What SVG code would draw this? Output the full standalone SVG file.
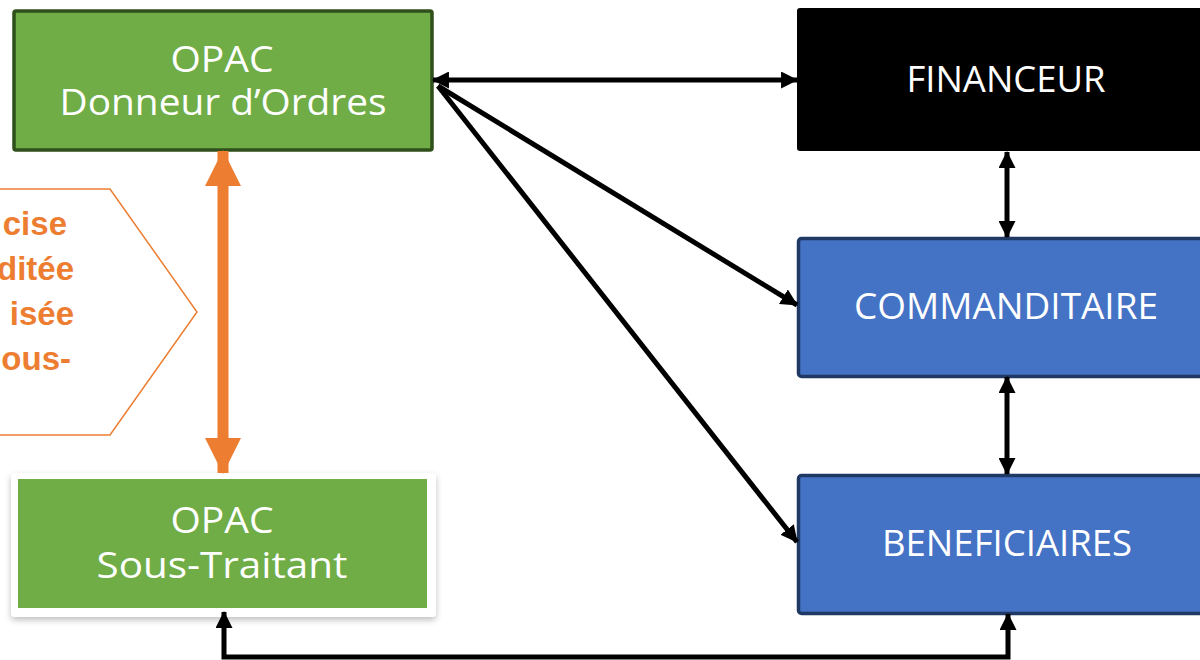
<svg xmlns="http://www.w3.org/2000/svg" width="1200" height="660" viewBox="0 0 1200 660">
<style>
.lbl{font-family:"Open Sans","Liberation Sans",sans-serif;font-size:36px;fill:#ffffff;text-anchor:middle}
.or{font-family:"Liberation Sans",Arial,sans-serif;font-weight:bold;font-size:33px;fill:#ed7d31;text-anchor:end}
.con{stroke:#000;stroke-width:5;fill:none}
</style>
<defs>
<marker id="ah" viewBox="0 0 16 16" refX="15" refY="8" markerWidth="17" markerHeight="17" markerUnits="userSpaceOnUse" orient="auto-start-reverse">
<path d="M0,0 L16,8 L0,16 z" fill="#000"/>
</marker>
<marker id="oh" viewBox="0 0 36 36" refX="35" refY="18" markerWidth="36" markerHeight="36" markerUnits="userSpaceOnUse" orient="auto-start-reverse">
<path d="M0,0 L36,18 L0,36 z" fill="#ed7d31"/>
</marker>
<filter id="sh" x="-5%" y="-5%" width="110%" height="115%">
<feDropShadow dx="0" dy="3" stdDeviation="3" flood-color="#000" flood-opacity="0.25"/>
</filter>
</defs>

<g id="callout">
<polygon points="-2,189 110,189 197,312 110,435 -2,435" fill="#fff" stroke="#ed7d31" stroke-width="1.5"/>
<text class="or" x="67" y="235">cise</text>
<text class="or" x="74" y="280">ditée</text>
<text class="or" x="74" y="325">isée</text>
<text class="or" x="71" y="370">ous-</text>
</g>

<g id="donneur">
<rect x="14" y="11" width="418" height="139" rx="2" fill="#70ad47" stroke="#2f4f1b" stroke-width="3.5"/>
<text class="lbl" x="222" y="72" textLength="103" lengthAdjust="spacingAndGlyphs">OPAC</text>
<text class="lbl" x="223" y="115" textLength="327" lengthAdjust="spacingAndGlyphs">Donneur d’Ordres</text>
</g>

<g id="soustraitant">
<rect x="11" y="473" width="425" height="144" rx="4" fill="#fff" filter="url(#sh)"/>
<rect x="18" y="479" width="409" height="129" fill="#70ad47"/>
<text class="lbl" x="222" y="533" textLength="103" lengthAdjust="spacingAndGlyphs">OPAC</text>
<text class="lbl" x="222" y="578" textLength="251" lengthAdjust="spacingAndGlyphs">Sous-Traitant</text>
</g>

<g id="financeur">
<rect x="797" y="8" width="420" height="143" rx="3" fill="#000"/>
<text class="lbl" x="1006" y="92" textLength="199" lengthAdjust="spacingAndGlyphs">FINANCEUR</text>
</g>

<g id="commanditaire">
<rect x="798.5" y="238.5" width="420" height="138" rx="3" fill="#4472c4" stroke="#1f3864" stroke-width="3.5"/>
<text class="lbl" x="1006" y="319" textLength="304" lengthAdjust="spacingAndGlyphs">COMMANDITAIRE</text>
</g>

<g id="beneficiaires">
<rect x="798.5" y="475.5" width="420" height="138" rx="3" fill="#4472c4" stroke="#1f3864" stroke-width="3.5"/>
<text class="lbl" x="1007" y="556" textLength="250" lengthAdjust="spacingAndGlyphs">BENEFICIAIRES</text>
</g>

<g id="connectors">
<line class="con" x1="433" y1="80" x2="797" y2="80" marker-start="url(#ah)" marker-end="url(#ah)"/>
<line class="con" x1="438" y1="86" x2="797" y2="305" marker-end="url(#ah)"/>
<line class="con" x1="438" y1="86" x2="797" y2="542" marker-end="url(#ah)"/>
<line class="con" x1="1007" y1="152" x2="1007" y2="237" marker-start="url(#ah)" marker-end="url(#ah)"/>
<line class="con" x1="1007" y1="377" x2="1007" y2="474" marker-start="url(#ah)" marker-end="url(#ah)"/>
<polyline class="con" points="1008,614 1008,657 224,657 224,612" marker-start="url(#ah)" marker-end="url(#ah)"/>
<line x1="223" y1="151" x2="223" y2="473" stroke="#ed7d31" stroke-width="11" marker-start="url(#oh)" marker-end="url(#oh)"/>
</g>
</svg>
